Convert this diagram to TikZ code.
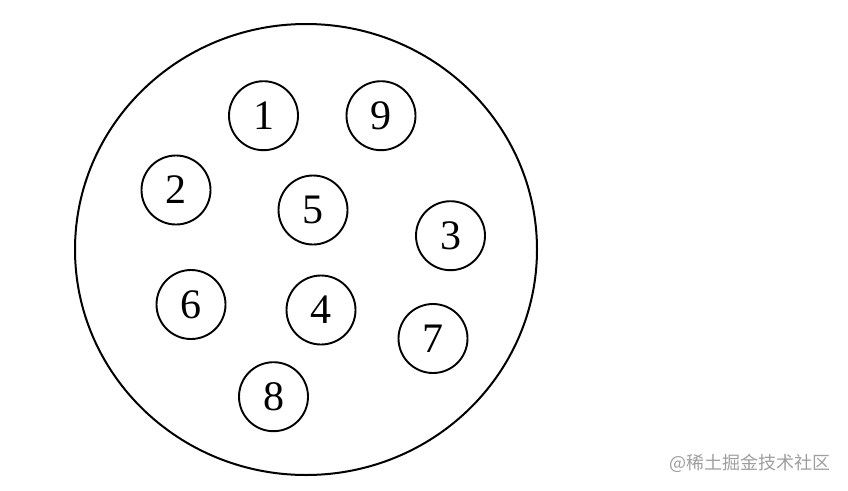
\documentclass[tikz,border=0pt]{standalone}
\usepackage{fontspec}
\setmainfont{Liberation Serif}
\newfontfamily\cjk{Noto Sans CJK SC}
\usetikzlibrary{shapes.geometric}
\begin{document}
\begin{tikzpicture}[x=1pt,y=-1pt,
  pin/.style={draw, circle, line width=1.9pt, minimum size=69pt, inner sep=0pt,
    font=\fontsize{42}{48}\selectfont}]
\useasboundingbox (0,0) rectangle (848,490);
\node[draw, ellipse, line width=2pt, minimum width=462pt, minimum height=451pt, inner sep=0pt] (outer) at (306,249.5) {};
\node[pin] (p1) at (263.5,115.7) {1};
\node[pin] (p9) at (381,115.7) {9};
\node[pin] (p2) at (176,190) {2};
\node[pin] (p5) at (313,210) {5};
\node[pin] (p3) at (450.5,235.7) {3};
\node[pin] (p6) at (191,304.5) {6};
\node[pin] (p4) at (321,310) {4};
\node[pin] (p7) at (433,338.5) {7};
\node[pin] (p8) at (273.5,396.7) {8};
\node[anchor=east, inner sep=0pt, text=black!38, font=\cjk\fontsize{18}{21}\selectfont] (wm) at (831,463) {@稀土掘金技术社区};
\end{tikzpicture}
\end{document}
